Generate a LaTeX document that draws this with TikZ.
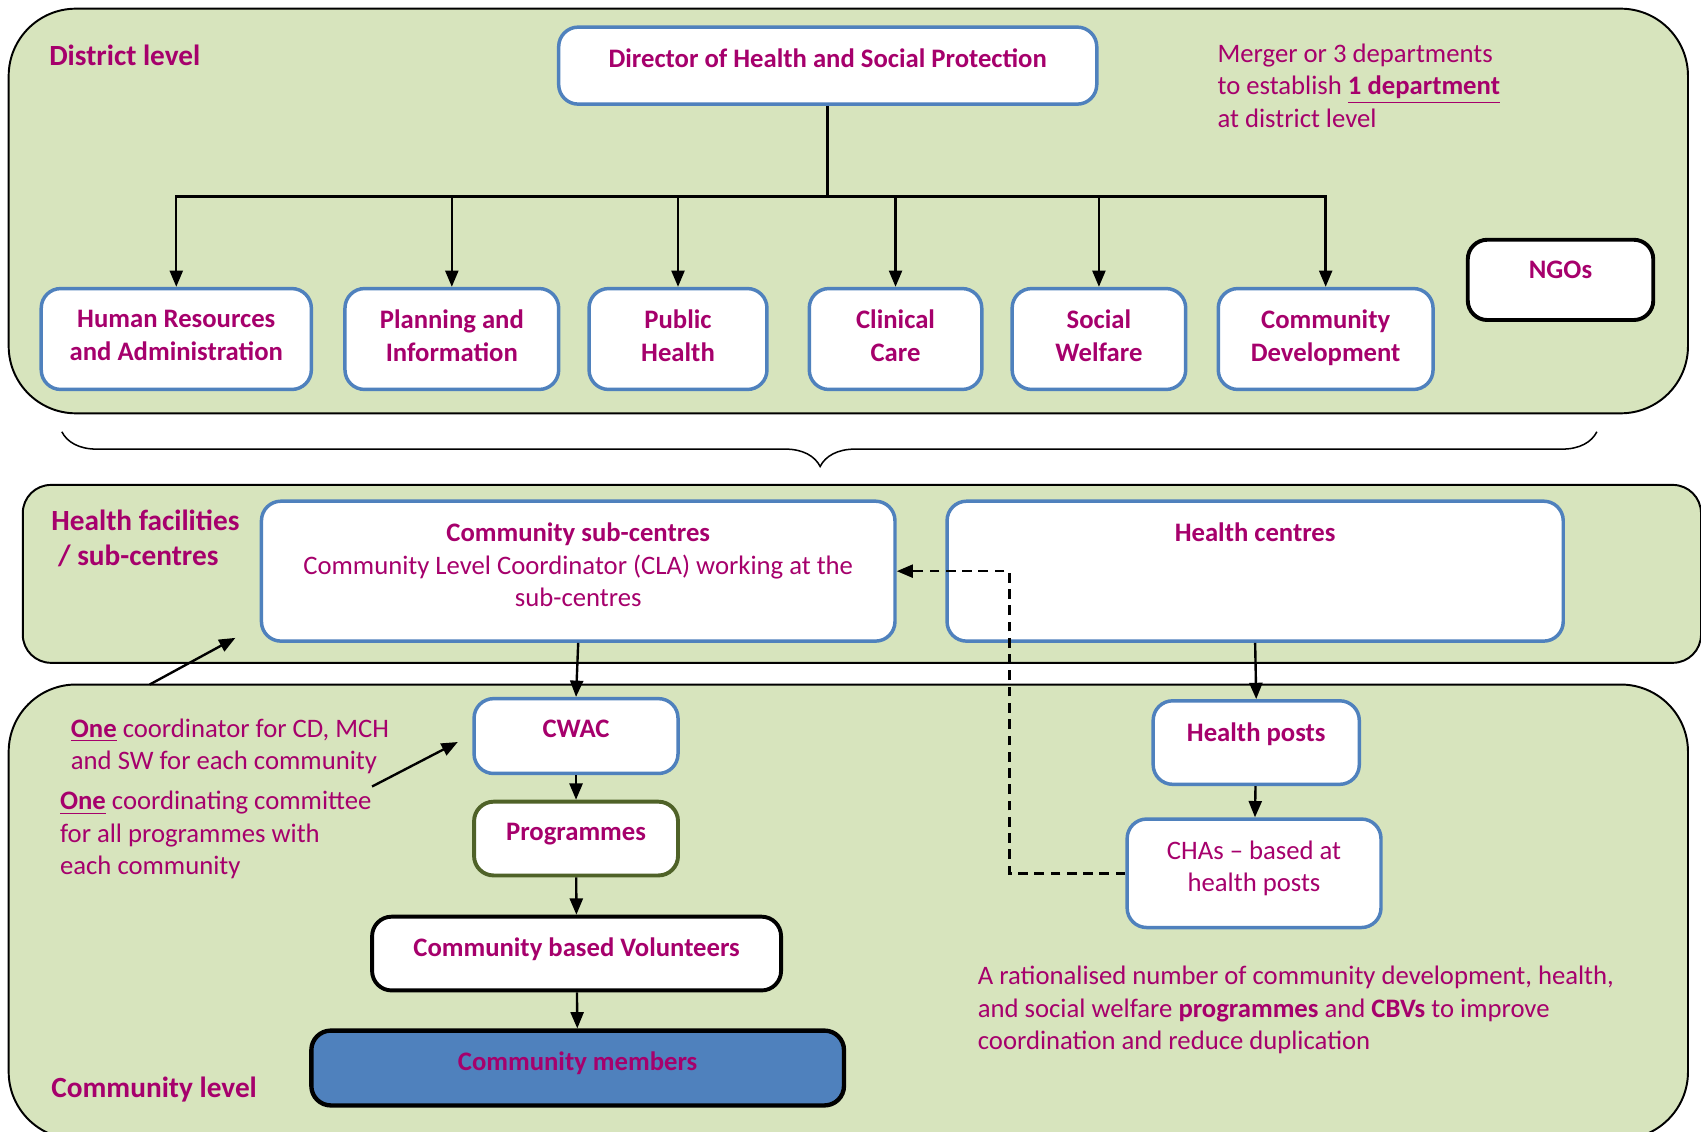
\documentclass[tikz,border=0pt]{standalone}
\usepackage{fontspec}
\setmainfont{Carlito}
\usetikzlibrary{arrows.meta,fit,decorations.pathreplacing}
\definecolor{panelgreen}{RGB}{215,228,189}
\definecolor{plum}{RGB}{166,0,108}
\definecolor{boxblue}{RGB}{79,129,189}
\definecolor{olivedark}{RGB}{79,98,40}
\tikzset{
  panel/.style={draw=black, line width=0.9pt, fill=panelgreen, rounded corners=31pt, inner sep=0pt},
  bbox/.style={draw=boxblue, line width=1.6pt, fill=white, rounded corners=9pt, inner sep=0pt},
  gbox/.style={bbox, draw=olivedark, line width=1.8pt},
  kbox/.style={bbox, draw=black, line width=1.8pt},
  mbox/.style={bbox, draw=black, fill=boxblue, line width=2pt},
  txt/.style={text=plum, font=\fontsize{12.3}{15}\selectfont, align=center, inner sep=0pt},
  head/.style={txt, font=\fontsize{12.3}{15}\selectfont\bfseries},
  lvl/.style={txt, font=\fontsize{13.5}{16}\selectfont\bfseries, align=left},
  intop/.style={anchor=north, yshift=-10.6pt},
  arr/.style={-{Triangle[length=7.5pt,width=6pt]}, line width=1.1pt},
  dasharr/.style={arr, line width=1.2pt, dash pattern=on 4.5pt off 3pt},
}
\begin{document}
\begin{tikzpicture}[x=0.5pt,y=-0.5pt]
\useasboundingbox (0,0) rectangle (1568,1043);
% the three levels
\node[panel, fit={(8,8)(1556,381)}] (district) {};
\node[panel, rounded corners=13pt, fit={(21,447)(1568,611)}] (facilities) {};
\node[panel, fit={(8,631)(1556,1050)}] (community) {};

% district level
\node[lvl, anchor=base west] (dlab) at (45,60) {District level};
\node[bbox, fit={(515,25)(1011,96)}] (dir) {};
\node[head, intop] (dir-t) at (dir.north) {Director of Health and Social Protection};
\node[txt, align=left, anchor=north west] (merger) at (1122,40)
  {Merger or 3 departments\\to establish \underline{\textbf{1 department}}\\at district level};
\foreach \n/\xa/\xb/\t in {hr/38/287/{Human Resources\\and Administration},
    pi/318/515/{Planning and\\Information}, ph/543/707/{Public\\Health},
    cc/746/905/{Clinical\\Care}, sw/933/1093/{Social\\Welfare},
    cd/1123/1321/{Community\\Development}}
{
  \node[bbox, fit={(\xa,266)(\xb,359)}] (\n) {};
  \node[head, intop] (\n-t) at (\n.north) {\t};
}
\node[kbox, fit={(1353,221)(1524,295)}] (ngo) {};
\node[head, intop] (ngo-t) at (ngo.north) {NGOs};

\coordinate (jn) at (763,181);
\draw[line width=1.6pt] (dir.south) -- (jn);
\foreach \n in {hr,pi,ph,cc,sw,cd} \draw[arr] (jn) -| (\n.north);

\draw[line width=0.7pt, decorate, decoration={brace, mirror, amplitude=16pt, aspect=0.494}]
  (57,398) -- (1472,398);

% health facilities
\node[lvl, anchor=north west] (hflab) at (47,470) {Health facilities\\\ / sub-centres};
\node[bbox, fit={(241,462)(825,591)}] (sub) {};
\node[txt, intop] (sub-t) at (sub.north)
  {\textbf{Community sub-centres}\\Community Level Coordinator (CLA) working at the\\sub-centres};
\node[bbox, fit={(873,462)(1441,591)}] (hc) {};
\node[head, intop] (hc-t) at (hc.north) {Health centres};

% community level
\node[lvl, anchor=base west] (clab) at (47,1012) {Community level};
\node[bbox, fit={(437,644)(625,713)}] (cwac) {};
\node[head, intop] (cwac-t) at (cwac.north) {CWAC};
\node[gbox, fit={(437,739)(625,807)}] (prog) {};
\node[head, intop] (prog-t) at (prog.north) {Programmes};
\node[kbox, fit={(343,845)(720,913)}] (cbv) {};
\node[head, intop] (cbv-t) at (cbv.north) {Community based Volunteers};
\node[mbox, fit={(287,950)(778,1019)}] (members) {};
\node[head, intop] (members-t) at (members.north) {Community members};
\node[bbox, fit={(1063,646)(1253,723)}] (hp) {};
\node[head, intop] (hp-t) at (hp.north) {Health posts};
\node[bbox, fit={(1039,755)(1273,855)}] (cha) {};
\node[txt, intop] (cha-t) at (cha.north) {CHAs -- based at\\health posts};

\node[txt, align=left, anchor=north west] (onecoord) at (65,662)
  {\underline{\textbf{One}} coordinator for CD, MCH\\and SW for each community};
\node[txt, align=left, anchor=north west] (onecomm) at (55,729)
  {\underline{\textbf{One}} coordinating committee\\for all programmes with\\each community};
\node[txt, align=left, anchor=north west] (ration) at (901,890)
  {A rationalised number of community development, health,\\and social welfare \textbf{programmes} and \textbf{CBVs} to improve\\coordination and reduce duplication};

\draw[arr] (sub.south) -- (cwac.north);
\draw[arr] (cwac) -- (prog);
\draw[arr] (prog) -- (cbv);
\draw[arr] (cbv) -- (members);
\draw[arr] (hc.south) -- (hp.north);
\draw[arr] (hp) -- (cha);
\draw[dasharr] (cha.west) -- ++(-107,0) |- (sub.east);

\coordinate (a1s) at (138,631);
\coordinate (a1e) at (217,588);
\draw[arr] (a1s) -- (a1e);
\coordinate (a2s) at (343,725);
\coordinate (a2e) at (422,684);
\draw[arr] (a2s) -- (a2e);
\end{tikzpicture}
\end{document}
